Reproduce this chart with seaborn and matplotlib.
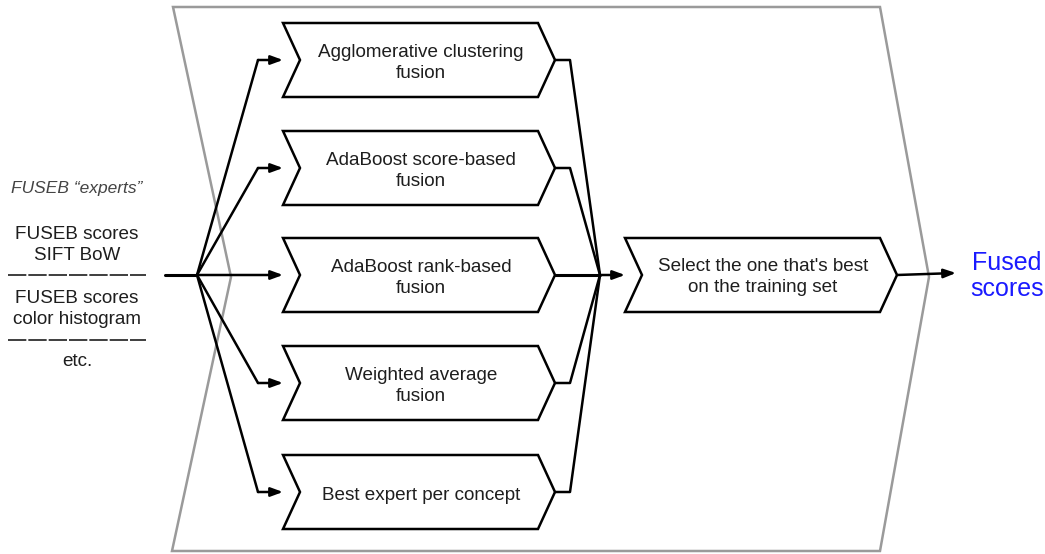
# Fusion pipeline diagram: experts -> fusion methods -> selection -> fused scores

import matplotlib
matplotlib.use("Agg")
import matplotlib.pyplot as plt
from matplotlib.patches import Polygon
import seaborn as sns

sns.set_theme(style="white")
plt.rcParams['font.family'] = ['Liberation Sans', 'DejaVu Sans']

# Diagram content
expert_title = "FUSEB \u201cexperts\u201d"
expert_lines = ["FUSEB scores\nSIFT BoW", "FUSEB scores\ncolor histogram", "etc."]
fusion_methods = [
    "Agglomerative clustering\nfusion",
    "AdaBoost score-based\nfusion",
    "AdaBoost rank-based\nfusion",
    "Weighted average\nfusion",
    "Best expert per concept",
]
fusion_centers = [60, 168, 275, 383, 492]
selector_label = "Select the one that's best\non the training set"
output_label = "Fused\nscores"

W, H = 1045, 554
fig = plt.figure(figsize=(W / 100, H / 100), dpi=100)
ax = fig.add_axes([0, 0, 1, 1])
ax.set_xlim(0, W)
ax.set_ylim(H, 0)
ax.axis("off")

text_color = "#1e1e1e"
fs = 13.6
ls = 1.3


def chevron(x0, x1, cy, half, notch=17, **kw):
    pts = [(x0, cy - half), (x1, cy - half), (x1 + notch, cy),
           (x1, cy + half), (x0, cy + half), (x0 + notch, cy)]
    ax.add_patch(Polygon(pts, closed=True, **kw))


def arrow(start, tip):
    ax.annotate("", xy=tip, xytext=start,
                arrowprops=dict(arrowstyle="-|>,head_length=0.6,head_width=0.22",
                                lw=1.8, color="black", shrinkA=0, shrinkB=0))


# big gray outer chevron
ax.add_patch(Polygon([(173, 7), (880, 7), (929, 277), (880, 551),
                      (172, 551), (231, 277)], closed=True,
                     fill=False, edgecolor="#9a9a9a", lw=1.8, zorder=1))

# left text
ax.text(77, 188, expert_title, ha="center", va="center", fontsize=12.5,
        style="italic", color="#444444")
ax.text(77, 245, expert_lines[0], ha="center", va="center", fontsize=fs,
        color=text_color, linespacing=ls)
ax.text(77, 309, expert_lines[1], ha="center", va="center", fontsize=fs,
        color=text_color, linespacing=ls)
ax.text(77, 361, expert_lines[2], ha="center", va="center", fontsize=fs,
        color=text_color)
for yy in [275, 340]:
    ax.plot([8, 146], [yy, yy], color=text_color, lw=1.2, dashes=(11, 1.2),
            solid_capstyle="butt")

# input hub
hub = (197, 275)
ax.plot([165, hub[0]], [275, 275], color="black", lw=2.2, zorder=3)

# fusion boxes
for label, cy in zip(fusion_methods, fusion_centers):
    chevron(283, 538, cy, 37, facecolor="white", edgecolor="black", lw=1.8, zorder=2)
    ax.text(421, cy + 3, label, ha="center", va="center", fontsize=fs,
            color=text_color, linespacing=ls, zorder=4)
    if cy == 275:
        arrow(hub, (283, cy))
    else:
        ax.plot([hub[0], 258], [hub[1], cy], color="black", lw=1.8, zorder=3)
        arrow((258, cy), (283, cy))
    # outputs converge
    if cy == 275:
        ax.plot([555, 600], [cy, 275], color="black", lw=2.2, zorder=3)
    else:
        ax.plot([555, 570, 600], [cy, cy, 275], color="black", lw=1.8, zorder=3)

# selector
arrow((600, 275), (625, 275))
chevron(625, 880, 275, 37, facecolor="white", edgecolor="black", lw=1.8, zorder=2)
ax.text(763, 277, selector_label, ha="center", va="center", fontsize=fs,
        color=text_color, linespacing=ls, zorder=4)

# output
arrow((897, 275), (956, 273))
ax.text(1007, 276, output_label, ha="center", va="center", fontsize=18,
        color="#1a1aff", linespacing=1.12)

fig.savefig("out.png", dpi=100)
